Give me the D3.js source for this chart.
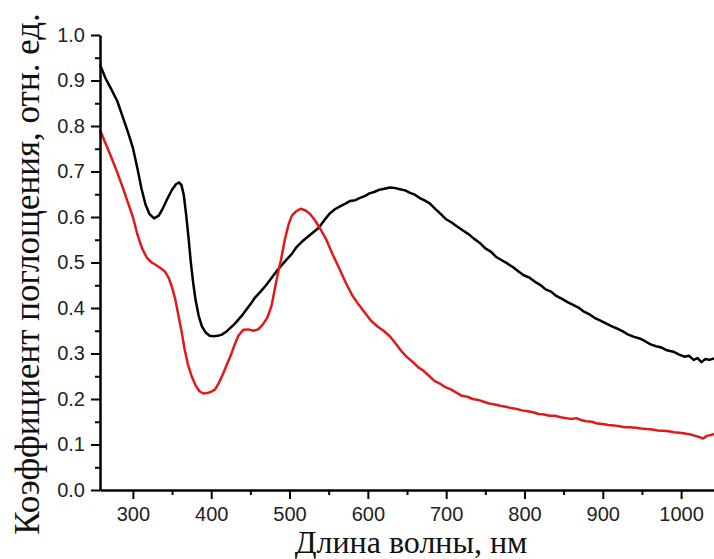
<!DOCTYPE html>
<html>
<head>
<meta charset="utf-8">
<script src="https://cdn.jsdelivr.net/npm/d3@7"></script>
<style>
  body { margin: 0; background: #fff; }
  .tick text { font-family: "Liberation Sans", Arial, sans-serif; font-size: 20px; fill: #222; }
</style>
</head>
<body>
<div id="chart"></div>
<script>
// black curve
var blackNm = [258,265,272,280,288,294,300,306,311,316,321,327,333,338,344,350,355,359,362,365,368,371,374,377,380,384,388,393,398,403,408,413,420,430,440,450,456,463,470,477,484,490,497,503,509,516,523,530,537,544,551,558,565,572,577,584,590,596,602,608,615,621,628,634,641,647,654,660,667,673,679,686,693,700,707,714,721,728,735,743,750,757,764,771,778,785,792,799,806,813,820,827,834,841,848,855,862,869,876,883,890,897,904,911,918,925,932,939,947,954,961,968,975,982,990,997,1004,1010,1016,1021,1026,1031,1036,1042];
var blackVal = [.935,.905,.882,.855,.815,.785,.752,.705,.662,.628,.607,.597,.603,.618,.640,.660,.672,.676,.670,.648,.605,.555,.500,.455,.418,.383,.360,.346,.339,.338,.339,.341,.349,.365,.385,.408,.423,.436,.450,.466,.482,.494,.508,.519,.534,.546,.556,.566,.576,.592,.607,.617,.624,.630,.635,.637,.642,.646,.652,.655,.660,.662,.665,.664,.661,.659,.653,.649,.641,.636,.630,.618,.607,.595,.588,.579,.571,.563,.553,.543,.531,.524,.512,.505,.498,.490,.481,.472,.467,.458,.451,.441,.436,.426,.420,.413,.407,.401,.392,.386,.378,.372,.366,.360,.355,.349,.342,.337,.333,.327,.320,.316,.313,.307,.304,.298,.293,.295,.286,.290,.281,.288,.286,.289];

// red curve
var redNm = [258,265,272,280,287,294,300,306,312,318,324,330,336,341,346,350,354,358,362,366,370,375,380,385,390,395,400,405,410,415,420,425,430,435,441,447,454,460,466,472,477,481,485,489,494,499,503,508,514,520,526,532,540,547,555,564,572,580,588,596,604,612,620,628,636,643,650,657,664,671,678,685,692,699,706,713,720,727,734,741,748,755,762,769,776,783,790,797,804,811,818,825,832,839,846,853,860,866,872,879,886,893,900,907,914,921,928,935,942,949,956,963,970,977,984,991,998,1005,1012,1018,1024,1028,1033,1038,1042];
var redVal = [.791,.762,.733,.698,.665,.630,.600,.560,.530,.510,.500,.494,.487,.480,.465,.445,.420,.385,.350,.310,.278,.250,.230,.217,.212,.213,.216,.221,.236,.255,.276,.296,.320,.340,.352,.353,.350,.353,.364,.380,.405,.440,.475,.505,.550,.585,.603,.612,.618,.615,.607,.594,.572,.550,.518,.485,.455,.428,.408,.390,.372,.360,.350,.338,.321,.305,.292,.282,.270,.262,.251,.240,.234,.226,.221,.214,.207,.205,.200,.198,.194,.190,.188,.185,.183,.180,.178,.175,.173,.171,.167,.166,.163,.163,.160,.158,.156,.158,.154,.151,.150,.146,.145,.143,.142,.140,.138,.138,.137,.135,.134,.133,.131,.130,.129,.127,.126,.124,.122,.119,.116,.113,.119,.121,.123];

var xTicks = [300,400,500,600,700,800,900,1000];
var xMinor = [350,450,550,650,750,850,950];
var yTicks = [0,0.1,0.2,0.3,0.4,0.5,0.6,0.7,0.8,0.9,1.0];
var yMinor = [0.05,0.15,0.25,0.35,0.45,0.55,0.65,0.75,0.85,0.95];

var width = 714, height = 559;
var serif = "'Times New Roman', 'Liberation Serif', 'DejaVu Serif', serif";

var svg = d3.select("#chart").append("svg")
  .attr("width", width)
  .attr("height", height);

var xScale = d3.scaleLinear().domain([258, 1042]).range([100, 714]);
var yScale = d3.scaleLinear().domain([0, 1]).range([490, 35]);

var line = d3.line()
  .x(function(d) { return xScale(d[0]); })
  .y(function(d) { return yScale(d[1]); });

svg.append("path")
  .datum(d3.zip(blackNm, blackVal))
  .attr("fill", "none")
  .attr("stroke", "#000")
  .attr("stroke-width", 2.5)
  .attr("stroke-linejoin", "round")
  .attr("d", line);

svg.append("path")
  .datum(d3.zip(redNm, redVal))
  .attr("fill", "none")
  .attr("stroke", "#e0191b")
  .attr("stroke-width", 2.5)
  .attr("stroke-linejoin", "round")
  .attr("d", line);

// minor ticks first
svg.append("g")
  .attr("transform", "translate(0,490)")
  .call(d3.axisBottom(xScale).tickValues(xMinor).tickSize(5).tickFormat(""))
  .call(function(g) { g.select(".domain").remove(); })
  .selectAll("line").attr("stroke-width", 2);

svg.append("g")
  .attr("transform", "translate(100,0)")
  .call(d3.axisLeft(yScale).tickValues(yMinor).tickSize(5).tickFormat(""))
  .call(function(g) { g.select(".domain").remove(); })
  .selectAll("line").attr("stroke-width", 2);

var xAxis = svg.append("g")
  .attr("transform", "translate(0,490)")
  .call(d3.axisBottom(xScale).tickValues(xTicks).tickSize(9).tickSizeOuter(0).tickPadding(8).tickFormat(d3.format("d")));
xAxis.select(".domain").attr("stroke-width", 2.5);
xAxis.selectAll(".tick line").attr("stroke-width", 2);

var yAxis = svg.append("g")
  .attr("transform", "translate(100,0)")
  .call(d3.axisLeft(yScale).tickValues(yTicks).tickSize(9).tickSizeOuter(0).tickPadding(6).tickFormat(d3.format(".1f")));
yAxis.select(".domain").attr("stroke-width", 2.5);
yAxis.selectAll(".tick line").attr("stroke-width", 2);

svg.append("text")
  .attr("x", 411)
  .attr("y", 553)
  .attr("text-anchor", "middle")
  .style("font-family", serif)
  .style("font-size", "32px")
  .style("fill", "#111")
  .text("Длина волны, нм");

svg.append("text")
  .attr("transform", "translate(39,274) rotate(-90)")
  .attr("text-anchor", "middle")
  .style("font-family", serif)
  .style("font-size", "35px")
  .style("fill", "#111")
  .text("Коэффициент поглощения, отн. ед.");
</script>
</body>
</html>
